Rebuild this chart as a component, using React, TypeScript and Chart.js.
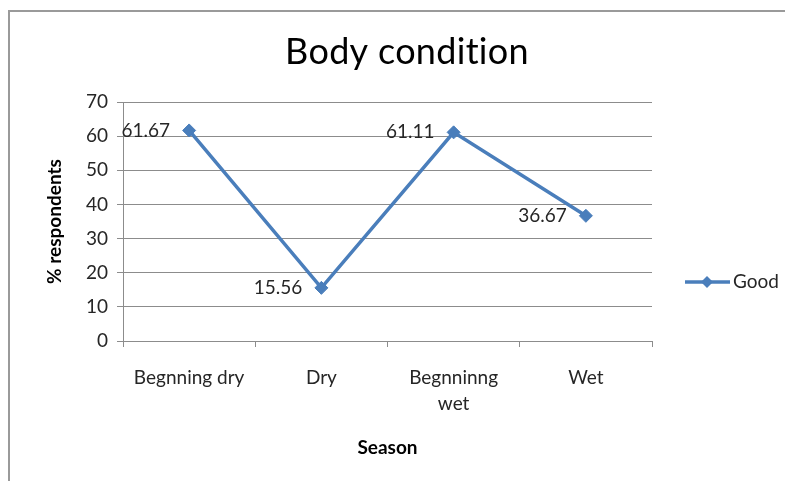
import React, { useEffect, useRef } from "react";
import { Chart, registerables } from "chart.js";

Chart.register(...registerables);

const chartTitle = "Body condition";
const categories: (string | string[])[] = ["Begnning dry", "Dry", ["Begnninng", "wet"], "Wet"];
const seriesName = "Good";
const goodValues = [61.67, 15.56, 61.11, 36.67];
const dataLabels = ["61.67", "15.56", "61.11", "36.67"];
const yMin = 0;
const yMax = 70;
const yStep = 10;
const xTitle = "Season";
const yTitle = "% respondents";

const W = 785;
const H = 473;
const FONT = "Lato";
const BLUE = "#4a7ebb";
const GRID = "#8c8c8c";
const TEXT = "#262626";
const FS = 19;

const diamond = (ctx: CanvasRenderingContext2D, x: number, y: number, r: number) => {
  ctx.beginPath();
  ctx.moveTo(x, y - r);
  ctx.lineTo(x + r, y);
  ctx.lineTo(x, y + r);
  ctx.lineTo(x - r, y);
  ctx.closePath();
  ctx.fill();
};

const framePlugin = {
  id: "frame",
  beforeDraw(chart: any) {
    const ctx = chart.ctx;
    ctx.save();
    ctx.fillStyle = "#ffffff";
    ctx.fillRect(0, 0, chart.width, chart.height);
    ctx.strokeStyle = "#9a9a9a";
    ctx.lineWidth = 2;
    ctx.beginPath();
    ctx.moveTo(1, chart.height);
    ctx.lineTo(1, 3);
    ctx.lineTo(chart.width, 3);
    ctx.stroke();
    ctx.restore();
  },
  afterDraw(chart: any) {
    const ctx = chart.ctx;
    ctx.save();
    ctx.font = `36px ${FONT}`;
    try {
      (ctx as any).letterSpacing = "0.3px";
    } catch (e) {}
    ctx.fillStyle = "#000";
    ctx.textAlign = "center";
    ctx.textBaseline = "middle";
    ctx.fillText(chartTitle, 399, 44);
    ctx.restore();
  },
};

const labelPlugin = {
  id: "pointLabels",
  afterDatasetsDraw(chart: any) {
    const ctx = chart.ctx;
    const meta = chart.getDatasetMeta(0);
    ctx.save();
    ctx.font = `${FS}px ${FONT}`;
    ctx.fillStyle = TEXT;
    ctx.textAlign = "right";
    ctx.textBaseline = "middle";
    meta.data.forEach((pt: any, i: number) => {
      ctx.fillText(dataLabels[i], pt.x - 19, pt.y);
    });
    ctx.restore();
  },
};

const legendPlugin = {
  id: "sideLegend",
  afterDraw(chart: any) {
    const ctx = chart.ctx;
    const y = 274;
    ctx.save();
    ctx.strokeStyle = BLUE;
    ctx.lineWidth = 3.5;
    ctx.beginPath();
    ctx.moveTo(677, y);
    ctx.lineTo(722, y);
    ctx.stroke();
    ctx.fillStyle = BLUE;
    diamond(ctx, 699, y, 6);
    ctx.font = `${FS}px ${FONT}`;
    ctx.fillStyle = TEXT;
    ctx.textAlign = "left";
    ctx.textBaseline = "middle";
    ctx.fillText(seriesName, 725, y);
    ctx.restore();
  },
};

export default function App() {
  const ref = useRef<HTMLCanvasElement | null>(null);
  useEffect(() => {
    document.body.style.overflow = "hidden";
    document.documentElement.style.overflow = "hidden";
    if (!ref.current) return;
    const chart = new Chart(ref.current, {
      type: "line",
      data: {
        labels: categories as any,
        datasets: [
          {
            label: seriesName,
            data: goodValues,
            borderColor: BLUE,
            backgroundColor: BLUE,
            borderWidth: 3.5,
            pointStyle: "rectRot",
            pointRadius: 6.5,
            pointHoverRadius: 6.5,
            pointBackgroundColor: BLUE,
            pointBorderColor: BLUE,
            pointBorderWidth: 1,
            tension: 0,
          },
        ],
      },
      options: {
        responsive: false,
        animation: false,
        layout: { padding: { left: 0, right: 141, top: 94, bottom: 0 } },
        plugins: {
          legend: { display: false },
          tooltip: { enabled: false },
          title: { display: false },
        },
        scales: {
          x: {
            type: "category",
            offset: true,
            grid: {
              display: true,
              offset: true,
              drawOnChartArea: false,
              drawTicks: true,
              tickLength: 6,
              color: GRID,
            },
            border: { display: true, color: GRID, width: 1 },
            ticks: {
              color: TEXT,
              font: { family: FONT, size: FS, lineHeight: 26 / FS },
              padding: 18,
              maxRotation: 0,
              autoSkip: false,
            },
            title: {
              display: true,
              text: xTitle,
              color: "#000",
              font: { family: FONT, size: FS, weight: "bold" },
              padding: { top: 0, bottom: 21.6 },
            },
            afterFit(scale: any) {
              scale.height = 140;
            },
          },
          y: {
            min: yMin,
            max: yMax,
            ticks: {
              stepSize: yStep,
              color: TEXT,
              font: { family: FONT, size: FS },
              padding: 9,
            },
            grid: {
              color: GRID,
              tickLength: 6,
              drawTicks: true,
            },
            border: { display: true, color: GRID, width: 1 },
            title: {
              display: true,
              text: yTitle,
              color: "#000",
              font: { family: FONT, size: FS, weight: "bold" },
              padding: { top: 35.6, bottom: 0 },
            },
            afterFit(scale: any) {
              scale.width = 115;
            },
          },
        },
      },
      plugins: [framePlugin, labelPlugin, legendPlugin],
    } as any);
    return () => chart.destroy();
  }, []);
  return (
    <div style={{ width: W, height: H }}>
      <canvas ref={ref} width={W} height={H} style={{ display: "block" }} />
    </div>
  );
}
